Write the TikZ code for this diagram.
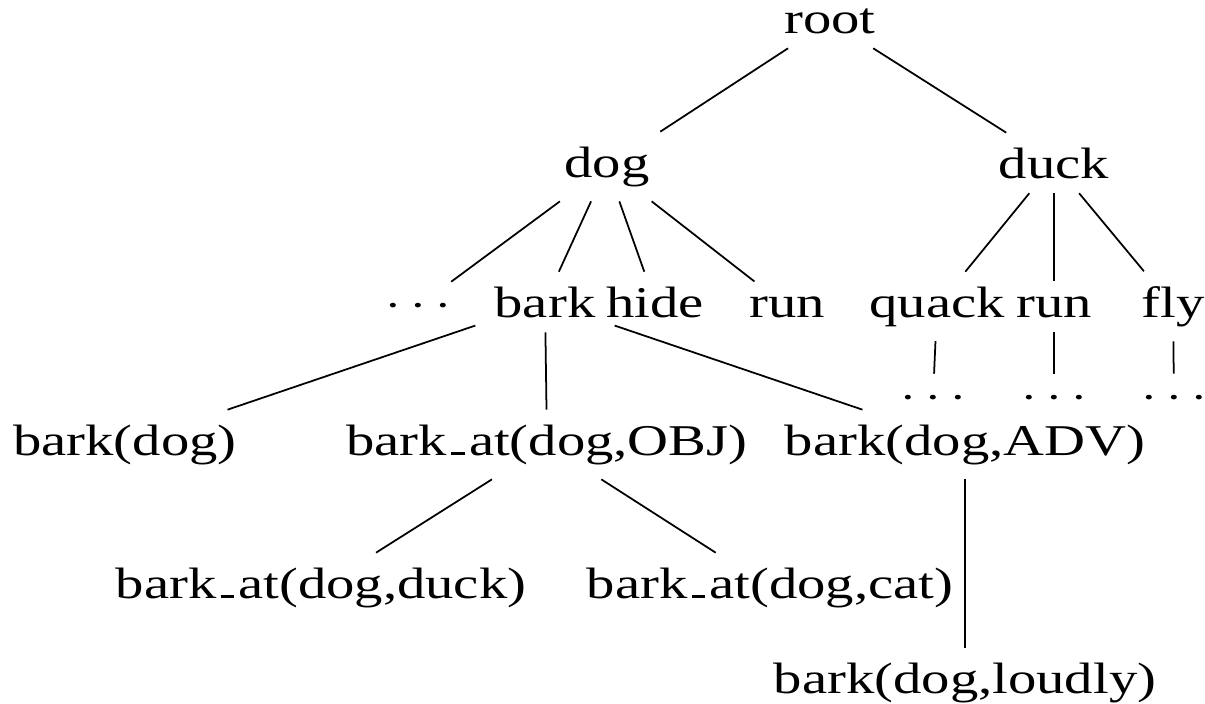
\documentclass[tikz,border=0pt]{standalone}
\usepackage{fontspec}
\setmainfont[FakeStretch=1.29]{Liberation Serif}
\usepackage{graphicx}
\newcommand{\usc}{\kern.1em\rule{.3em}{.06em}\kern.1em}
\newcommand{\dotsx}{\scalebox{1.29}[1]{$\cdots$}}
\begin{document}
\begin{tikzpicture}[x=0.02cm, y=-0.02cm,
  tn/.style={anchor=base, inner xsep=0.38cm, inner ysep=0.29cm,
             font=\fontsize{25pt}{30pt}\selectfont},
  edge/.style={line width=1pt, black}]
\useasboundingbox (0,0) rectangle (1205,704);
\node[tn] (root)  at (830,33)   {root};
\node[tn] (dog)   at (607,177)  {dog};
\node[tn] (duck)  at (1054,178) {duck};
\node[tn] (d0)    at (418,316)  {\dotsx};
\node[tn] (bark)  at (545,317)  {bark};
\node[tn] (hide)  at (655,317)  {hide};
\node[tn] (run1)  at (787,317)  {run};
\node[tn] (quack) at (937,317)  {quack};
\node[tn] (run2)  at (1054,317) {run};
\node[tn] (fly)   at (1173,317) {fly};
\node[tn] (dq)    at (933,408)  {\dotsx};
\node[tn] (dr)    at (1054,408) {\dotsx};
\node[tn] (df)    at (1174,408) {\dotsx};
\node[tn] (b1)    at (125,455)  {bark(dog)};
\node[tn] (b2)    at (547,455)  {bark\usc at(dog,OBJ)};
\node[tn] (b3)    at (965,455)  {bark(dog,ADV)};
\node[tn] (c1)    at (321,598)  {bark\usc at(dog,duck)};
\node[tn] (c2)    at (770,598)  {bark\usc at(dog,cat)};
\node[tn] (c3)    at (965,693)  {bark(dog,loudly)};
\draw[edge] (root) -- (dog);
\draw[edge] (root) -- (duck);
\draw[edge] (dog) -- (d0);
\draw[edge] (dog) -- (bark);
\draw[edge] (dog) -- (hide);
\draw[edge] (dog) -- (run1);
\draw[edge] (duck) -- (quack);
\draw[edge] (duck) -- (run2);
\draw[edge] (duck) -- (fly);
\draw[edge] (quack) -- (dq);
\draw[edge] (run2) -- (dr);
\draw[edge] (fly) -- (df);
\draw[edge] (bark) -- (b1);
\draw[edge] (bark) -- (b2);
\draw[edge] (bark) -- (b3);
\draw[edge] (b2) -- (c1);
\draw[edge] (b2) -- (c2);
\draw[edge] (b3) -- (c3);
\end{tikzpicture}
\end{document}
